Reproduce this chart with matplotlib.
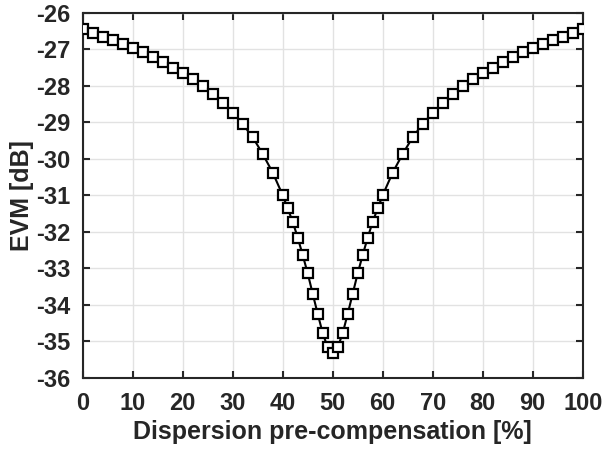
import numpy as np
import matplotlib
matplotlib.use("Agg")
import matplotlib.pyplot as plt

# 色散预补偿比例 [%] 与 EVM [dB]
x_left = [0, 2, 4, 6, 8, 10, 12, 14, 16, 18, 20, 22, 24, 26, 28, 30, 32, 34, 36, 38,
          40, 41, 42, 43, 44, 45, 46, 47, 48, 49]
evm_left = [-26.45, -26.56, -26.66, -26.76, -26.87, -26.98, -27.08, -27.22, -27.36, -27.51,
            -27.66, -27.82, -28.00, -28.23, -28.47, -28.74, -29.05, -29.41, -29.87, -30.38,
            -31.00, -31.36, -31.73, -32.16, -32.64, -33.14, -33.70, -34.25, -34.78, -35.17]
x_mid = [50]
evm_mid = [-35.33]

# 曲线关于 50% 对称
x = x_left + x_mid + [100 - v for v in x_left[::-1]]
evm = evm_left + evm_mid + evm_left[::-1]

xticks = list(range(0, 101, 10))
yticks = list(range(-36, -25, 1))

dark = "#262626"
plt.rcParams["font.family"] = ["Liberation Sans", "DejaVu Sans"]
plt.rcParams["font.weight"] = "bold"
plt.rcParams["axes.unicode_minus"] = False

fig = plt.figure(figsize=(6.03, 4.53), dpi=100)
ax = fig.add_axes([82.7 / 603, 1 - 377.7 / 453, (582.7 - 82.7) / 603, (377.7 - 12.7) / 453])

ax.plot(x, evm, color="black", linewidth=1.5, marker="s", markersize=6.9,
        markerfacecolor="white", markeredgecolor="black", markeredgewidth=1.6, zorder=3)

ax.set_xlim(0, 100)
ax.set_ylim(-36, -26)
ax.set_xticks(xticks)
ax.set_yticks(yticks)
ax.grid(True, color="#e2e2e2", linewidth=1.0)
ax.set_axisbelow(True)

ax.tick_params(direction="in", length=5, width=1.5, top=True, right=True,
               labelsize=17, colors=dark)
ax.tick_params(axis="x", pad=10)
ax.tick_params(axis="y", pad=9)
for lbl in ax.get_xticklabels() + ax.get_yticklabels():
    lbl.set_fontweight("bold")
for sp in ax.spines.values():
    sp.set_linewidth(1.5)
    sp.set_color(dark)

ax.set_xlabel("Dispersion pre-compensation [%]", fontsize=18, fontweight="bold", color=dark, labelpad=4)
ax.set_ylabel("EVM [dB]", fontsize=18, fontweight="bold", color=dark, labelpad=1)

plt.savefig("out.png", dpi=100)
plt.close()
